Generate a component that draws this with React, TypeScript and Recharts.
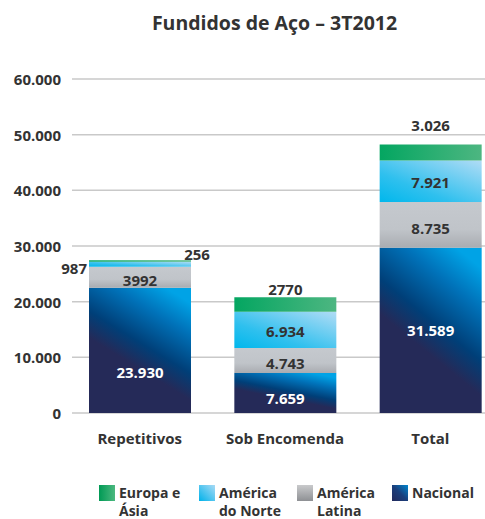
import { Bar, BarChart, CartesianGrid, LabelList, XAxis, YAxis } from "recharts";

const categories = ["Repetitivos", "Sob Encomenda", "Total"];
const nacional = [23930, 7659, 31589];
const americaLatina = [3992, 4743, 8735];
const americaNorte = [987, 6934, 7921];
const europaAsia = [256, 2770, 3026];

// labels exactly as printed in the source (some lack the thousands dot)
const nacionalLabels = ["23.930", "7.659", "31.589"];
const latinaLabels = ["3992", "4.743", "8.735"];
const norteLabels = ["987", "6.934", "7.921"];
const europaLabels = ["256", "2770", "3.026"];

const yTicks = [0, 10000, 20000, 30000, 40000, 50000, 60000];

const legendItems = [
  { lines: ["Europa e", "Ásia"], fill: "url(#lgEuropa)" },
  { lines: ["América", "do Norte"], fill: "url(#lgNorte)" },
  { lines: ["América", "Latina"], fill: "url(#lgLatina)" },
  { lines: ["Nacional"], fill: "url(#lgNacional)" },
];

const data = categories.map((name, i) => ({
  name,
  nacional: nacional[i],
  latina: americaLatina[i],
  norte: americaNorte[i],
  europa: europaAsia[i],
}));

const FONT = "'Open Sans', 'DejaVu Sans', sans-serif";
const TEXT = "#333333";
const TICK_RIGHT = 61;

const fmtThousands = (v: number) => String(v).replace(/\B(?=(\d{3})+(?!\d))/g, ".");

function Gradients() {
  return (
    <defs>
      <linearGradient id="gNacional" x1="0.25" y1="1" x2="0.75" y2="0">
        <stop offset="0" stopColor="#252a58" />
        <stop offset="0.38" stopColor="#252a58" />
        <stop offset="0.55" stopColor="#003f78" />
        <stop offset="0.8" stopColor="#0072b9" />
        <stop offset="1" stopColor="#00a3e6" />
      </linearGradient>
      <linearGradient id="gLatina" x1="0" y1="0" x2="0" y2="1">
        <stop offset="0" stopColor="#c5c9ce" />
        <stop offset="0.6" stopColor="#c0c4c9" />
        <stop offset="1" stopColor="#a9acb1" />
      </linearGradient>
      <linearGradient id="gNorte" x1="0" y1="1" x2="1" y2="0">
        <stop offset="0" stopColor="#00b7ec" />
        <stop offset="0.35" stopColor="#2fc0ee" />
        <stop offset="1" stopColor="#b1dcf5" />
      </linearGradient>
      <linearGradient id="gEuropa" x1="0" y1="0" x2="1" y2="0">
        <stop offset="0" stopColor="#04a661" />
        <stop offset="1" stopColor="#4db681" />
      </linearGradient>
      <linearGradient id="gShadow" x1="0" y1="0" x2="0" y2="1">
        <stop offset="0" stopColor="#000" stopOpacity="0.28" />
        <stop offset="0.4" stopColor="#000" stopOpacity="0.1" />
        <stop offset="1" stopColor="#000" stopOpacity="0" />
      </linearGradient>
      <linearGradient id="gShadowX" x1="0" y1="0" x2="1" y2="0">
        <stop offset="0" stopColor="#fff" stopOpacity="0" />
        <stop offset="0.2" stopColor="#fff" stopOpacity="1" />
        <stop offset="0.8" stopColor="#fff" stopOpacity="1" />
        <stop offset="1" stopColor="#fff" stopOpacity="0" />
      </linearGradient>
      <mask id="shadowMask" maskContentUnits="objectBoundingBox">
        <rect x="0" y="0" width="1" height="1" fill="url(#gShadowX)" />
      </mask>
    </defs>
  );
}

function NacionalShape(props: any) {
  const { x, y, width, height, fill } = props;
  return (
    <g>
      <rect
        x={x - 22}
        y={y + height}
        width={width + 44}
        height={30}
        fill="url(#gShadow)"
        mask="url(#shadowMask)"
      />
      <rect x={x} y={y} width={width} height={height} fill={fill} />
    </g>
  );
}

function labelText(x: number, y: number, text: string, color: string, anchor = "middle") {
  return (
    <text
      x={x}
      y={y}
      fill={color}
      textAnchor={anchor}
      dominantBaseline="central"
      style={{ fontFamily: FONT, fontWeight: 700, fontSize: 15 }}
    >
      {text}
    </text>
  );
}

const nacionalLabel = (p: any) => {
  const nudge = [22, 5, 0][p.index] ?? 0;
  return labelText(p.x + p.width / 2, p.y + p.height / 2 + nudge, nacionalLabels[p.index], "#ffffff");
};

const latinaLabel = (p: any) =>
  labelText(p.x + p.width / 2, p.y + p.height / 2 + 3, latinaLabels[p.index], TEXT);

const norteLabel = (p: any) => {
  // thin segment on the first bar: label sits outside on the left
  if (p.index === 0) return labelText(p.x - 2, p.y + p.height / 2 + 4, norteLabels[0], TEXT, "end");
  return labelText(p.x + p.width / 2, p.y + p.height / 2 + 1, norteLabels[p.index], TEXT);
};

const europaLabel = (p: any) => {
  if (p.index === 0) return labelText(p.x + p.width + 6, p.y - 6, europaLabels[0], TEXT);
  const lift = p.index === 1 ? 8 : 20;
  return labelText(p.x + p.width / 2, p.y - lift, europaLabels[p.index], TEXT);
};

function YTick({ y, payload }: any) {
  return (
    <text
      x={TICK_RIGHT}
      y={y}
      fill={TEXT}
      textAnchor="end"
      dominantBaseline="central"
      style={{ fontFamily: FONT, fontWeight: 700, fontSize: 15 }}
    >
      {fmtThousands(payload.value)}
    </text>
  );
}

function XTick({ x, y, payload }: any) {
  return (
    <text
      x={x}
      y={y + 17}
      fill={TEXT}
      textAnchor="middle"
      dominantBaseline="central"
      style={{ fontFamily: FONT, fontWeight: 700, fontSize: 15 }}
    >
      {payload.value}
    </text>
  );
}

function LegendSwatches() {
  return (
    <svg width={0} height={0} style={{ position: "absolute" }}>
      <defs>
        <linearGradient id="lgEuropa" x1="0" y1="0" x2="1" y2="0">
          <stop offset="0" stopColor="#009a55" />
          <stop offset="1" stopColor="#4cb87f" />
        </linearGradient>
        <linearGradient id="lgNorte" x1="0" y1="1" x2="1" y2="0">
          <stop offset="0" stopColor="#00b2ea" />
          <stop offset="1" stopColor="#a9daf5" />
        </linearGradient>
        <linearGradient id="lgLatina" x1="0" y1="0" x2="0" y2="1">
          <stop offset="0" stopColor="#c9cacc" />
          <stop offset="1" stopColor="#8e9094" />
        </linearGradient>
        <linearGradient id="lgNacional" x1="0" y1="1" x2="1" y2="0">
          <stop offset="0" stopColor="#232a5c" />
          <stop offset="0.5" stopColor="#1b3f7c" />
          <stop offset="1" stopColor="#0086cf" />
        </linearGradient>
      </defs>
    </svg>
  );
}

export default function App() {
  const legendLeft = [99, 199, 297, 392];
  return (
    <div
      style={{
        position: "fixed",
        left: 0,
        top: 0,
        width: 485,
        height: 519,
        overflow: "hidden",
        background: "#ffffff",
        fontFamily: FONT,
      }}
    >
      <div
        style={{
          position: "absolute",
          top: 9,
          left: 0,
          width: 549,
          textAlign: "center",
          fontSize: 19.5,
          fontWeight: 700,
          color: TEXT,
          lineHeight: "28px",
        }}
      >
        Fundidos de Aço – 3T2012
      </div>

      <div style={{ position: "absolute", left: 0, top: 0 }}>
        <BarChart
          width={520}
          height={460}
          data={data}
          margin={{ top: 79, right: 17, left: 0, bottom: 17 }}
          barSize={102}
        >
          <Gradients />
          <CartesianGrid
            yAxisId="left"
            horizontal
            vertical={false}
            x={72}
            width={440}
            stroke="#c9c9c9"
            strokeWidth={1.5}
          />
          <XAxis dataKey="name" axisLine={false} tickLine={false} height={30} tick={<XTick />} interval={0} />
          <YAxis
            yAxisId="left"
            width={67}
            type="number"
            domain={[0, 60000]}
            allowDataOverflow
            ticks={yTicks}
            axisLine={false}
            tickLine={false}
            tick={<YTick />}
            interval={0}
          />
          {/* the printed bars use a slightly smaller scale than the printed grid */}
          <YAxis yAxisId="bars" hide type="number" domain={[0, 63800]} allowDataOverflow />
          <Bar
            yAxisId="bars"
            dataKey="nacional"
            stackId="s"
            fill="url(#gNacional)"
            shape={NacionalShape}
            isAnimationActive={false}
          >
            <LabelList dataKey="nacional" content={nacionalLabel} />
          </Bar>
          <Bar yAxisId="bars" dataKey="latina" stackId="s" fill="url(#gLatina)" isAnimationActive={false}>
            <LabelList dataKey="latina" content={latinaLabel} />
          </Bar>
          <Bar yAxisId="bars" dataKey="norte" stackId="s" fill="url(#gNorte)" isAnimationActive={false}>
            <LabelList dataKey="norte" content={norteLabel} />
          </Bar>
          <Bar yAxisId="bars" dataKey="europa" stackId="s" fill="url(#gEuropa)" isAnimationActive={false}>
            <LabelList dataKey="europa" content={europaLabel} />
          </Bar>
        </BarChart>
      </div>

      <LegendSwatches />
      {legendItems.map((item, i) => (
        <div key={i} style={{ position: "absolute", left: legendLeft[i], top: 484 }}>
          <svg width={16} height={16} style={{ position: "absolute", left: 0, top: 1 }}>
            <rect width={16} height={16} fill={item.fill} />
          </svg>
          <div
            style={{
              position: "absolute",
              left: 20,
              top: 0,
              fontSize: 14,
              fontWeight: 700,
              color: TEXT,
              lineHeight: "18px",
              whiteSpace: "nowrap",
            }}
          >
            {item.lines.map((l, j) => (
              <div key={j}>{l}</div>
            ))}
          </div>
        </div>
      ))}
    </div>
  );
}
